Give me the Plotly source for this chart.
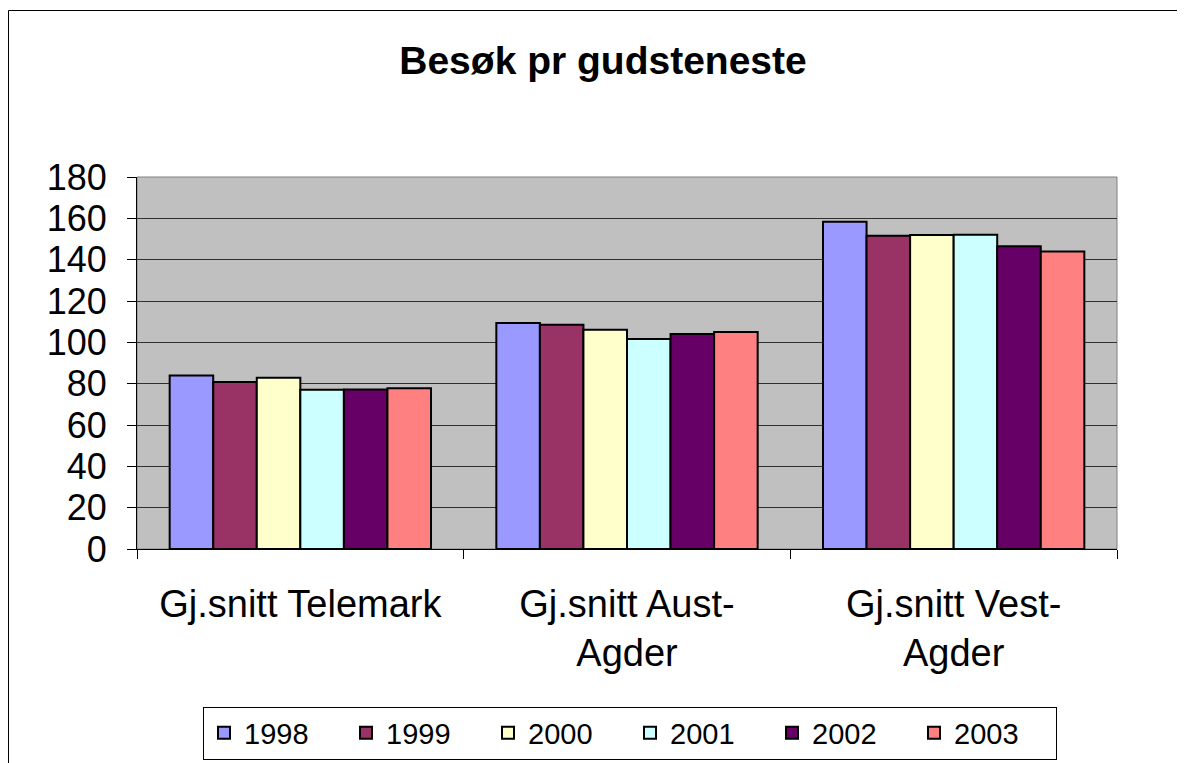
import plotly.graph_objects as go

categories = ["Gj.snitt Telemark", "Gj.snitt Aust-<br>Agder", "Gj.snitt Vest-<br>Agder"]
years = ["1998", "1999", "2000", "2001", "2002", "2003"]
values = {
    "1998": [83.9, 109.4, 158.4],
    "1999": [80.8, 108.5, 151.6],
    "2000": [82.9, 106.1, 151.9],
    "2001": [77.1, 101.6, 152.1],
    "2002": [77.2, 104.0, 146.5],
    "2003": [77.8, 105.0, 144.0],
}
colors = ["#9999FF", "#993366", "#FFFFCC", "#CCFFFF", "#660066", "#FF8080"]

fig = go.Figure()
for y, c in zip(years, colors):
    fig.add_trace(go.Bar(
        name=y, x=categories, y=values[y],
        marker=dict(color=c, line=dict(color="black", width=2)),
    ))

OFF = 8  # page body margin offset
W, H = 1185, 763
L, R, T, B = 137 - OFF, 1117 - OFF, 177 - OFF, 549 - OFF
pw, ph = R - L, B - T


def px(xr):
    return (xr - OFF - L) / pw


def py(yr):
    return (B - (yr - OFF)) / ph


fig.update_layout(
    width=W, height=H,
    margin=dict(l=L, r=W - R, t=T, b=H - B, pad=0),
    paper_bgcolor="white",
    plot_bgcolor="#C0C0C0",
    barmode="group", bargap=0.2, bargroupgap=0,
    font=dict(family="Arial, Liberation Sans, sans-serif", color="black"),
    title=dict(text="<b>Besøk pr gudsteneste</b>", x=(603 - OFF) / W, xanchor="center",
               y=1 - (60 - OFF) / H, yanchor="middle", font=dict(size=39)),
    legend=dict(orientation="h", x=px(630), xanchor="center",
                y=py(733), yanchor="middle",
                bordercolor="black", borderwidth=1, font=dict(size=29),
                itemwidth=30, entrywidth=97, entrywidthmode="pixels",
                traceorder="normal"),
    showlegend=True,
)
fig.update_yaxes(range=[0, 180], dtick=20, showgrid=True, gridcolor="#303030", gridwidth=1,
                 showline=True, linecolor="black", linewidth=1, ticks="outside", ticklen=9,
                 tickcolor="black", tickfont=dict(size=36), ticklabelstandoff=13, mirror=False,
                 zeroline=False)
fig.update_xaxes(showline=True, linecolor="black", linewidth=1, ticks="outside", ticklen=9,
                 tickcolor="black", tickson="boundaries", tickfont=dict(size=38),
                 ticklabelstandoff=21)

# plot area border (gray)
fig.add_shape(type="rect", xref="paper", yref="paper", x0=0, x1=1, y0=0, y1=1,
              line=dict(color="#808080", width=1), fillcolor="rgba(0,0,0,0)", layer="below")
# outer chart frame
fig.add_shape(type="rect", xref="paper", yref="paper",
              x0=px(8.5), x1=px(1177.5),
              y0=py(790), y1=py(10.5),
              line=dict(color="black", width=1), fillcolor="rgba(0,0,0,0)")

fig.write_html("out.html")
